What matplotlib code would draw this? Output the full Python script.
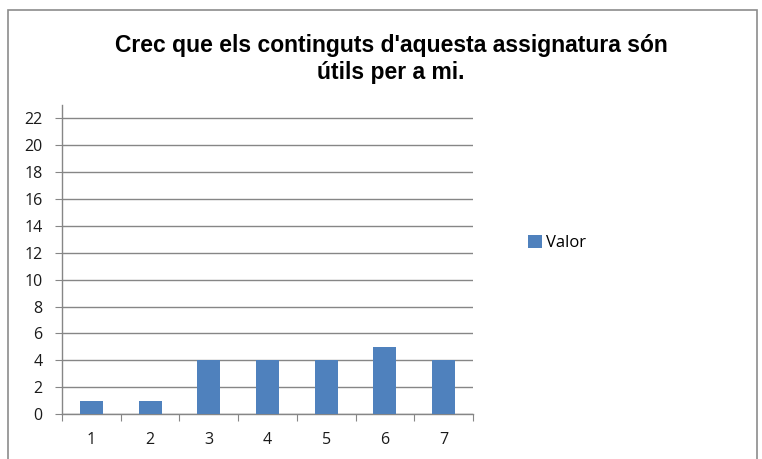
import matplotlib
matplotlib.use("Agg")
import matplotlib.pyplot as plt
from matplotlib.patches import Rectangle, Patch

categories = ["1", "2", "3", "4", "5", "6", "7"]
values = [1, 1, 4, 4, 4, 5, 4]
yticks = [0, 2, 4, 6, 8, 10, 12, 14, 16, 18, 20, 22]
title = "Crec que els continguts d'aquesta assignatura són\nútils per a mi."
series_name = "Valor"

W, H = 762, 459
fig = plt.figure(figsize=(W / 100, H / 100), dpi=100)

# chart border
fig.patches.append(Rectangle((8 / W, -0.1), (757 - 8) / W, (H - 10) / H + 0.1,
                             transform=fig.transFigure, fill=False,
                             edgecolor="#8c8c8c", linewidth=1.2))

left, right, top, bottom = 62, 473, 105, 414
ax = fig.add_axes([left / W, 1 - bottom / H, (right - left) / W, (bottom - top) / H])

x = list(range(len(categories)))
bar_color = "#4F81BD"
ax.bar(x, values, width=0.39, color=bar_color, zorder=3)

ax.set_xlim(-0.5, len(categories) - 0.5)
ax.set_ylim(0, 23)
ax.set_yticks(yticks)
ax.set_yticklabels([str(v) for v in yticks])
ax.yaxis.grid(True, color="#868686", linewidth=1.0, zorder=0)
ax.set_axisbelow(True)

# x ticks at category boundaries, labels at centers
ax.set_xticks([i - 0.5 for i in range(len(categories) + 1)])
ax.set_xticklabels([])
ax.set_xticks(x, minor=True)
ax.set_xticklabels(categories, minor=True)
ax.tick_params(axis="x", which="minor", length=0, pad=13)
ax.tick_params(axis="x", which="major", length=5, direction="out", color="#868686")
ax.tick_params(axis="y", length=5, direction="out", color="#868686", pad=9)

for lab in ax.get_xticklabels(minor=True) + ax.get_yticklabels():
    lab.set_fontfamily("Open Sans")
    lab.set_fontsize(11.5)
    lab.set_color("#1a1a1a")

for s in ["top", "right"]:
    ax.spines[s].set_visible(False)
for s in ["left", "bottom"]:
    ax.spines[s].set_color("#868686")
    ax.spines[s].set_linewidth(1.0)

fig.text(391 / W, 1 - 59 / H, title, ha="center", va="center",
         fontsize=16.5, fontweight="bold", family="Liberation Sans",
         linespacing=1.25, color="#000000")

fig.legend(handles=[Patch(facecolor=bar_color, label=series_name)],
           loc="center left", bbox_to_anchor=(513 / W, 1 - 243 / H),
           frameon=False, handlelength=0.85, handleheight=0.85, handletextpad=0.2,
           prop={"family": "Open Sans", "size": 12})

fig.savefig("out.png", dpi=100)
